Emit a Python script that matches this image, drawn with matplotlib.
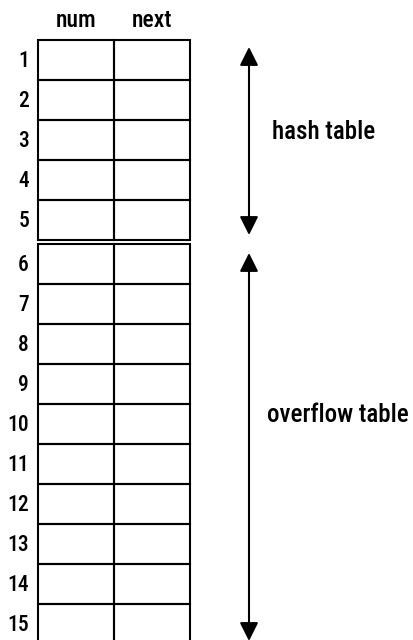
import matplotlib
matplotlib.use('Agg')
from matplotlib import pyplot as plt
from matplotlib.patches import Rectangle

# table content
columns = ['num', 'next']
row_labels = [str(i) for i in range(1, 16)]
section_names = ['hash table', 'overflow table']
section_sizes = [5, 10]

plt.rcParams['font.family'] = ['Roboto Condensed', 'DejaVu Sans']
plt.rcParams['font.weight'] = 'medium'

fig = plt.figure(figsize=(4.14, 6.4), dpi=100)
ax = fig.add_axes([0, 0, 1, 1])
ax.set_xlim(0, 414)
ax.set_ylim(640, 0)
ax.axis('off')

left = 38
col_w = 76
row_h = 40
top = 40
gap = 4
lw = 1.5
# layout of the section labels (x, baseline offset from section middle)
label_x = [272, 267]
label_dy = [-1, -22]

# headers
for j, name in enumerate(columns):
    ax.text(left + col_w * (j + 0.5), 27, name, ha='center', va='baseline', fontsize=17)

y = top
row = 0
for s, (name, size) in enumerate(zip(section_names, section_sizes)):
    y_start = y
    for k in range(size):
        for j in range(len(columns)):
            ax.add_patch(Rectangle((left + j * col_w, y), col_w, row_h,
                                   fill=False, lw=lw, ec='black'))
        ax.text(left - 9, y + row_h / 2 + 7, row_labels[row], ha='right', va='baseline',
                fontsize=15.5)
        y += row_h
        row += 1
    y_end = y
    # double-headed arrow spanning the section
    ax.annotate('', xy=(249, y_start + 7 + 2 * s), xytext=(249, y_end - 5 + 2 * s),
                arrowprops=dict(arrowstyle='<|-|>', color='black', lw=1.5,
                                mutation_scale=28, shrinkA=0, shrinkB=0))
    mid = (y_start + y_end) / 2
    ax.text(label_x[s], mid + label_dy[s], name, ha='left', va='baseline', fontsize=18)
    y += gap

fig.savefig('out.png', dpi=100)
